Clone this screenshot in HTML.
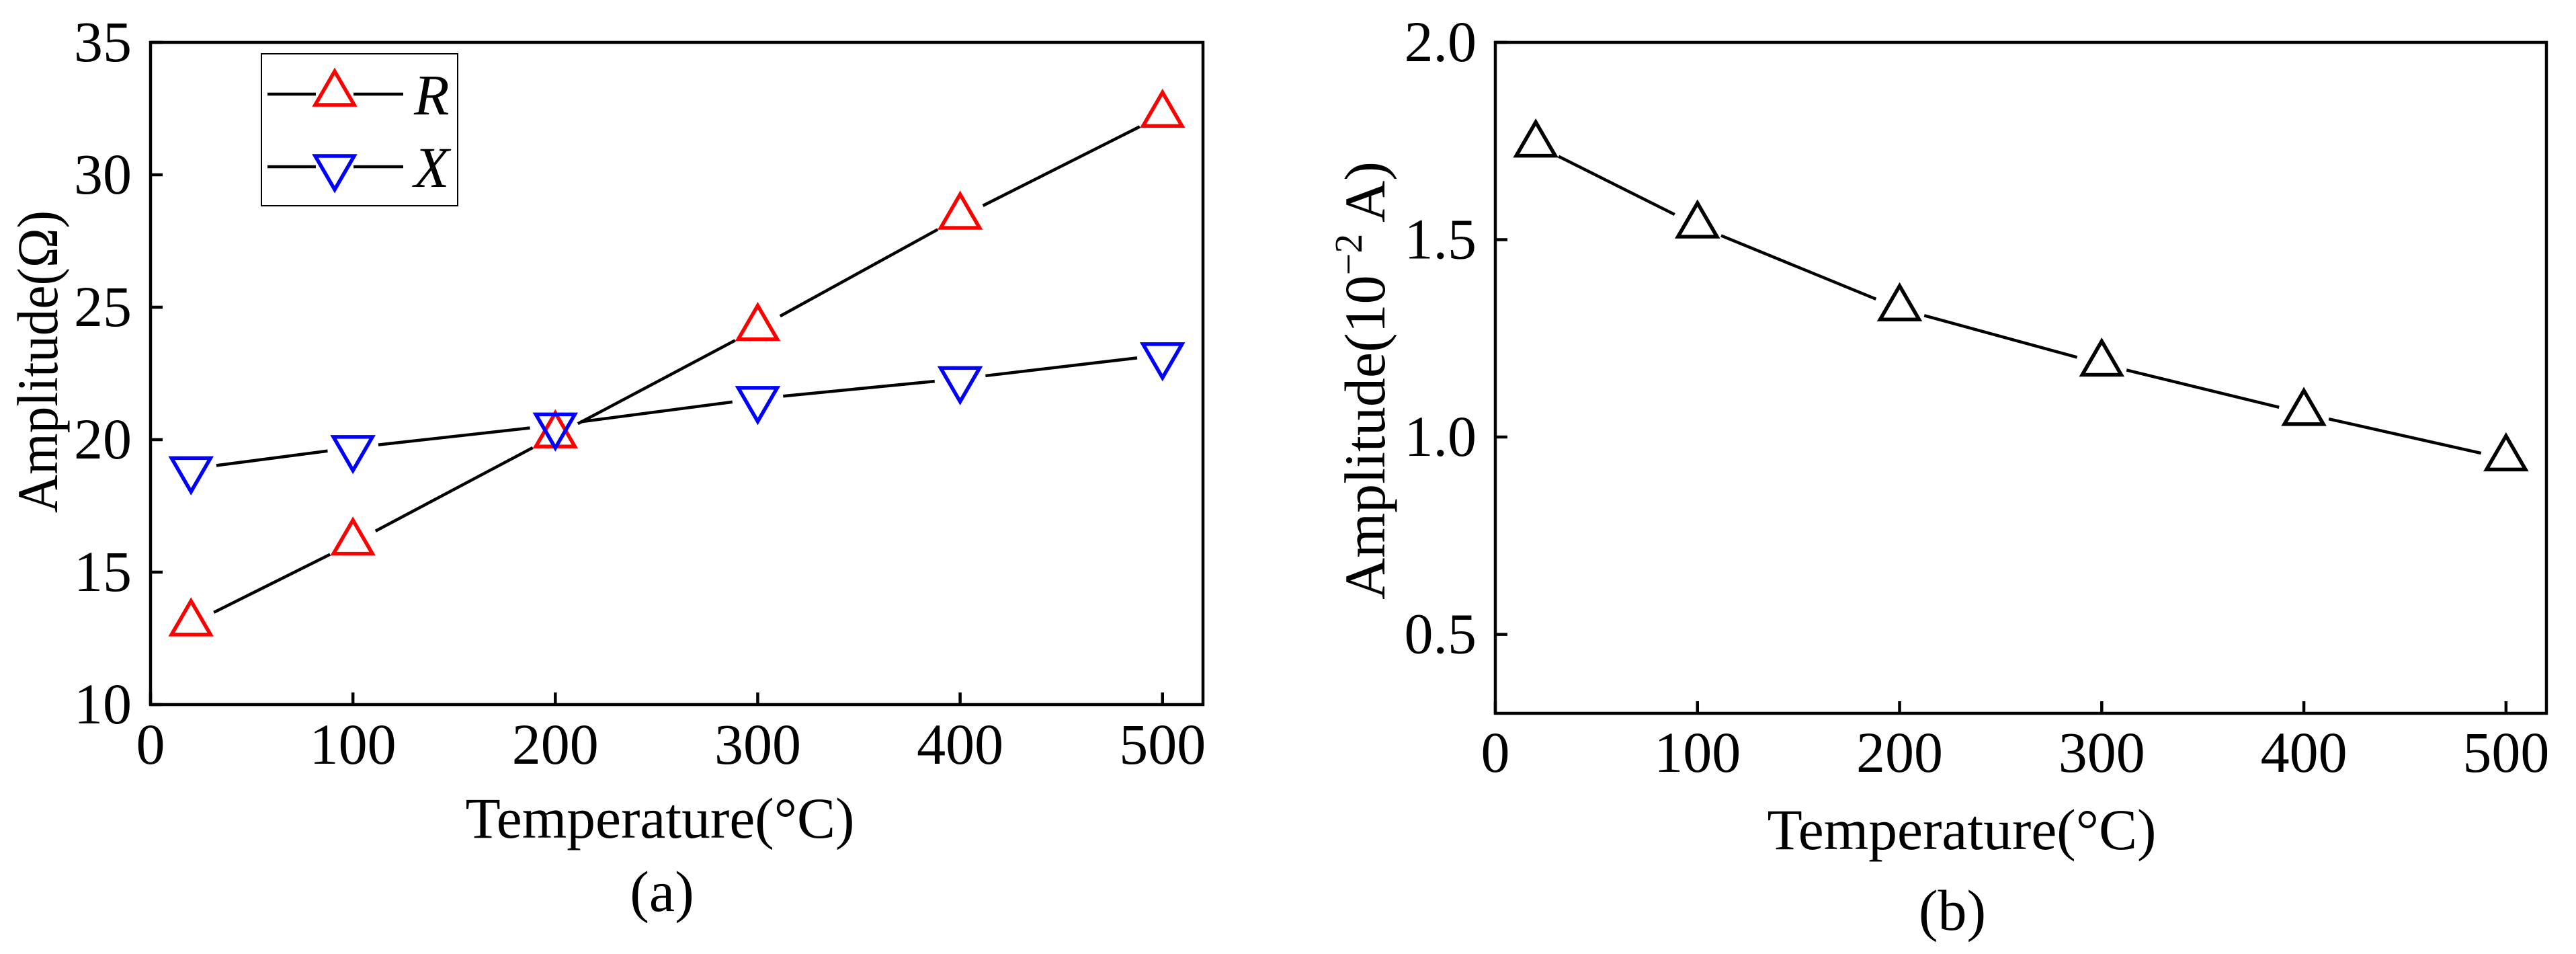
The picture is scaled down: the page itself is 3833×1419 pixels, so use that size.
<!DOCTYPE html>
<html><head><meta charset="utf-8"><style>
html,body{margin:0;padding:0;background:#fff;}
svg{display:block;font-family:"Liberation Serif",serif;}
</style></head><body>
<svg id="fig" width="3833" height="1419" viewBox="0 0 3833 1419" xmlns="http://www.w3.org/2000/svg">
<rect width="3833" height="1419" fill="#fff"/>
<g id="chartA"></g>
<g id="chartB"></g>
</svg>
<script>
const temps = [20, 100, 200, 300, 400, 500];
const seriesR = [13.05, 16.1, 20.15, 24.2, 28.4, 32.25];
const seriesX = [18.9, 19.7, 20.55, 21.55, 22.3, 23.2];
const seriesB = [1.74, 1.535, 1.325, 1.185, 1.06, 0.945];
const xTicks = [0, 100, 200, 300, 400, 500];
const yTicksA = [10, 15, 20, 25, 30, 35];
const yTicksB = [0.5, 1.0, 1.5, 2.0];
const yTickLabelsB = ["0.5", "1.0", "1.5", "2.0"];

const NS = "http://www.w3.org/2000/svg";
function mk(parent, tag, attrs, text) {
  const e = document.createElementNS(NS, tag);
  for (const k in attrs) e.setAttribute(k, attrs[k]);
  if (text !== undefined) e.textContent = text;
  parent.appendChild(e);
  return e;
}
function tri(cx, cy, up) {
  const h = 50, w = 58, a = 34, b = 16;
  if (up) return `${cx},${cy - a} ${cx - w / 2},${cy + b} ${cx + w / 2},${cy + b}`;
  return `${cx},${cy + a} ${cx - w / 2},${cy - b} ${cx + w / 2},${cy - b}`;
}
function drawLine(g, xs, ys, fx, fy, name) {
  for (let i = 0; i < xs.length - 1; i++) {
    const x1 = fx(xs[i]), y1 = fy(ys[i]), x2 = fx(xs[i + 1]), y2 = fy(ys[i + 1]);
    const dx = x2 - x1, dy = y2 - y1, L = Math.hypot(dx, dy), g0 = 38;
    const ln = mk(g, "line", {x1: x1 + dx / L * g0, y1: y1 + dy / L * g0, x2: x2 - dx / L * g0, y2: y2 - dy / L * g0, stroke: "#000", "stroke-width": 4.5});
    
    
  }
}
function drawMarkers(g, xs, ys, fx, fy, up, color, name) {
  for (let i = 0; i < xs.length; i++) {
    const p = mk(g, "polygon", {points: tri(fx(xs[i]), fy(ys[i]), up), fill: "none", stroke: color, "stroke-width": 5.5, "stroke-linejoin": "miter"});
    
    
  }
}
function axes(g, L, R, T, B, fx, fy, yt, ytl, tickY) {
  const fr = mk(g, "rect", {x: L, y: T, width: R - L, height: B - T, fill: "none", stroke: "#000", "stroke-width": 4.5});
  
  
  xTicks.forEach(v => {
    const x = fx(v);
    const t = mk(g, "line", {x1: x, y1: B, x2: x, y2: B - 18, stroke: "#000", "stroke-width": 4.5});
    
    
    const tx = mk(g, "text", {x: x, y: tickY, "font-size": 86, "text-anchor": "middle"}, String(v));
    
    
  });
  yt.forEach((v, i) => {
    const y = fy(v);
    const t = mk(g, "line", {x1: L, y1: y, x2: L + 18, y2: y, stroke: "#000", "stroke-width": 4.5});
    
    
    const tx = mk(g, "text", {x: L - 28, y: y + 28, "font-size": 86, "text-anchor": "end"}, ytl[i]);
    
    
  });
}

// Chart A
(function () {
  const g = document.getElementById("chartA");
  const L = 224, R = 1790, T = 63, B = 1048;
  const fx = v => L + v * (R - L) / 520;
  const fy = v => B - (v - 10) * (B - T) / 25;
  axes(g, L, R, T, B, fx, fy, yTicksA, yTicksA.map(String), 1136);
  drawLine(g, temps, seriesR, fx, fy, "series-r");
  drawLine(g, temps, seriesX, fx, fy, "series-x");
  drawMarkers(g, temps, seriesR, fx, fy, true, "#ff0000", "series-r");
  drawMarkers(g, temps, seriesX, fx, fy, false, "#0000ff", "series-x");
  const lg = mk(g, "g", {});
  
  
  mk(lg, "rect", {x: 389, y: 80, width: 292, height: 226, fill: "#fff", stroke: "#000", "stroke-width": 2});
  [[140, true, "#ff0000", "R"], [248, false, "#0000ff", "X"]].forEach(([y, up, c, lab]) => {
    const e = mk(lg, "g", {});
    
    
    mk(e, "line", {x1: 398, y1: y, x2: 470, y2: y, stroke: "#000", "stroke-width": 4.5});
    mk(e, "line", {x1: 526, y1: y, x2: 600, y2: y, stroke: "#000", "stroke-width": 4.5});
    mk(e, "polygon", {points: tri(498, y + (up ? 0 : 0), up), fill: "none", stroke: c, "stroke-width": 5.5});
    mk(e, "text", {x: 616, y: y + 30, "font-size": 86, "font-style": "italic"}, lab);
  });
  const xl = mk(g, "text", {x: 982, y: 1246, "font-size": 86, "text-anchor": "middle", textLength: 579, lengthAdjust: "spacingAndGlyphs"}, "Temperature(°C)");
  
  
  const yl = mk(g, "text", {x: 0, y: 0, "font-size": 86, "text-anchor": "middle", transform: "translate(85,538) rotate(-90)", textLength: 450, lengthAdjust: "spacingAndGlyphs"}, "Amplitude(Ω)");
  
  
  const cap = mk(g, "text", {x: 985, y: 1355, "font-size": 86, "text-anchor": "middle"}, "(a)");
  
  
})();

// Chart B
(function () {
  const g = document.getElementById("chartB");
  const L = 2225, R = 3789, T = 63, B = 1061;
  const fx = v => L + v * (R - L) / 520;
  const fy = v => B - (v - 0.3) * (B - T) / 1.7;
  axes(g, L, R, T, B, fx, fy, yTicksB, yTickLabelsB, 1148);
  drawLine(g, temps, seriesB, fx, fy, "series-b");
  drawMarkers(g, temps, seriesB, fx, fy, true, "#000", "series-b");
  const xl = mk(g, "text", {x: 2919, y: 1263, "font-size": 86, "text-anchor": "middle", textLength: 579, lengthAdjust: "spacingAndGlyphs"}, "Temperature(°C)");
  
  
  const yl = mk(g, "text", {x: 0, y: 0, "font-size": 86, "text-anchor": "middle", transform: "translate(2060,566) rotate(-90)"});
  
  
  mk(yl, "tspan", {}, "Amplitude(10");
  mk(yl, "tspan", {dy: -34, "font-size": 58}, "−2");
  mk(yl, "tspan", {dy: 34}, " A)");
  const cap = mk(g, "text", {x: 2905, y: 1383, "font-size": 86, "text-anchor": "middle"}, "(b)");
  
  
})();
</script>
</body></html>
